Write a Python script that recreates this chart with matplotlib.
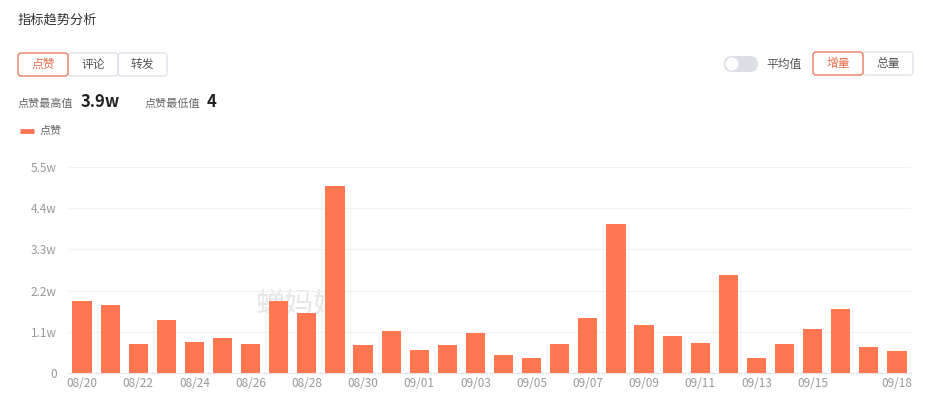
import matplotlib.pyplot as plt
from matplotlib.patches import FancyBboxPatch, Circle

plt.rcParams['font.family'] = ['Noto Sans CJK SC', 'DejaVu Sans']

# data: daily likes (in 万 / w)
dates = ['08/20', '08/21', '08/22', '08/23', '08/24', '08/25', '08/26', '08/27',
         '08/28', '08/29', '08/30', '08/31', '09/01', '09/02', '09/03', '09/04',
         '09/05', '09/06', '09/07', '09/08', '09/09', '09/10', '09/11', '09/12',
         '09/13', '09/14', '09/15', '09/16', '09/17', '09/18']
likes = [1.92, 1.81, 0.79, 1.43, 0.83, 0.94, 0.78, 1.92, 1.60, 4.99,
         0.75, 1.13, 0.61, 0.74, 1.06, 0.48, 0.41, 0.79, 1.48, 3.97,
         1.29, 1.00, 0.81, 2.62, 0.42, 0.77, 1.17, 1.71, 0.69, 0.59]
y_ticks = [0, 1.1, 2.2, 3.3, 4.4, 5.5]
y_labels = ['0', '1.1w', '2.2w', '3.3w', '4.4w', '5.5w']
tick_idx = list(range(0, 27, 2)) + [29]

W, H = 932, 407
BAR = '#ff7752'
ORANGE = '#e8704f'

fig = plt.figure(figsize=(W / 100, H / 100), dpi=100)

# overlay in pixel coordinates (y down) for the page widgets
ui = fig.add_axes([0, 0, 1, 1], zorder=5)
ui.set_xlim(0, W)
ui.set_ylim(H, 0)
ui.set_axis_off()

ui.text(18, 20, '指标趋势分析', fontsize=9.5, color='#333333', va='center')


def button(x0, x1, y0, y1, label, active):
    ec = ORANGE if active else '#dcdfe6'
    ui.add_patch(FancyBboxPatch((x0, y0), x1 - x0, y1 - y0,
                                boxstyle='round,pad=0,rounding_size=3',
                                fc='white', ec=ec, lw=0.9, zorder=2 if active else 1))
    ui.text((x0 + x1) / 2, (y0 + y1) / 2, label, fontsize=8.5,
            color=ORANGE if active else '#555555', ha='center', va='center', zorder=3)


button(118, 167, 53, 76, '转发', False)
button(68, 118, 53, 76, '评论', False)
button(18, 68, 53, 76, '点赞', True)
button(863, 913, 52, 75, '总量', False)
button(813, 863, 52, 75, '增量', True)

# toggle
ui.add_patch(FancyBboxPatch((724, 56), 34, 16, boxstyle='round,pad=0,rounding_size=8',
                            fc='#dcdfe6', ec='none'))
ui.add_patch(Circle((732, 64), 6.5, fc='white', ec='none'))
ui.text(766, 64, '平均值', fontsize=8.5, color='#555555', va='center')

# stats
ui.text(18, 104, '点赞最高值', fontsize=8, color='#666666', va='center')
ui.text(81, 102, '3.9w', fontsize=12, color='#222222', va='center', fontweight='bold')
ui.text(145, 104, '点赞最低值', fontsize=8, color='#666666', va='center')
ui.text(207, 102, '4', fontsize=12, color='#222222', va='center', fontweight='bold')

# legend
ui.plot([20, 34], [131, 131], color=BAR, lw=3.5, solid_capstyle='butt')
ui.text(40, 131, '点赞', fontsize=8, color='#666666', va='center')

# chart
ax = fig.add_axes([68 / W, 1 - 373.3 / H, 843 / W, 206.7 / H])
x = list(range(len(likes)))
ax.bar(x, likes, width=0.68, color=BAR, zorder=3)
ax.set_xlim(-0.5, len(likes) - 0.5)
ax.set_ylim(0, 5.5)
ax.set_yticks(y_ticks)
ax.set_yticklabels(y_labels)
ax.set_xticks(tick_idx)
ax.set_xticklabels([dates[i] for i in tick_idx])
ax.tick_params(length=0, labelsize=8.5, labelcolor='#999999')
ax.tick_params(axis='y', pad=8)
ax.tick_params(axis='x', pad=3)
ax.grid(axis='y', color='#f2f2f2', lw=0.9, zorder=0)
for s in ['top', 'right', 'left']:
    ax.spines[s].set_visible(False)
ax.spines['bottom'].set_color('#e6e6e6')

# watermark behind the bars
ax.text(256, 305, '蝉妈妈', transform=ui.transData, fontsize=21, color='#e6e6e6',
        va='center', zorder=1)

fig.savefig('out.png', dpi=100, facecolor='white')
